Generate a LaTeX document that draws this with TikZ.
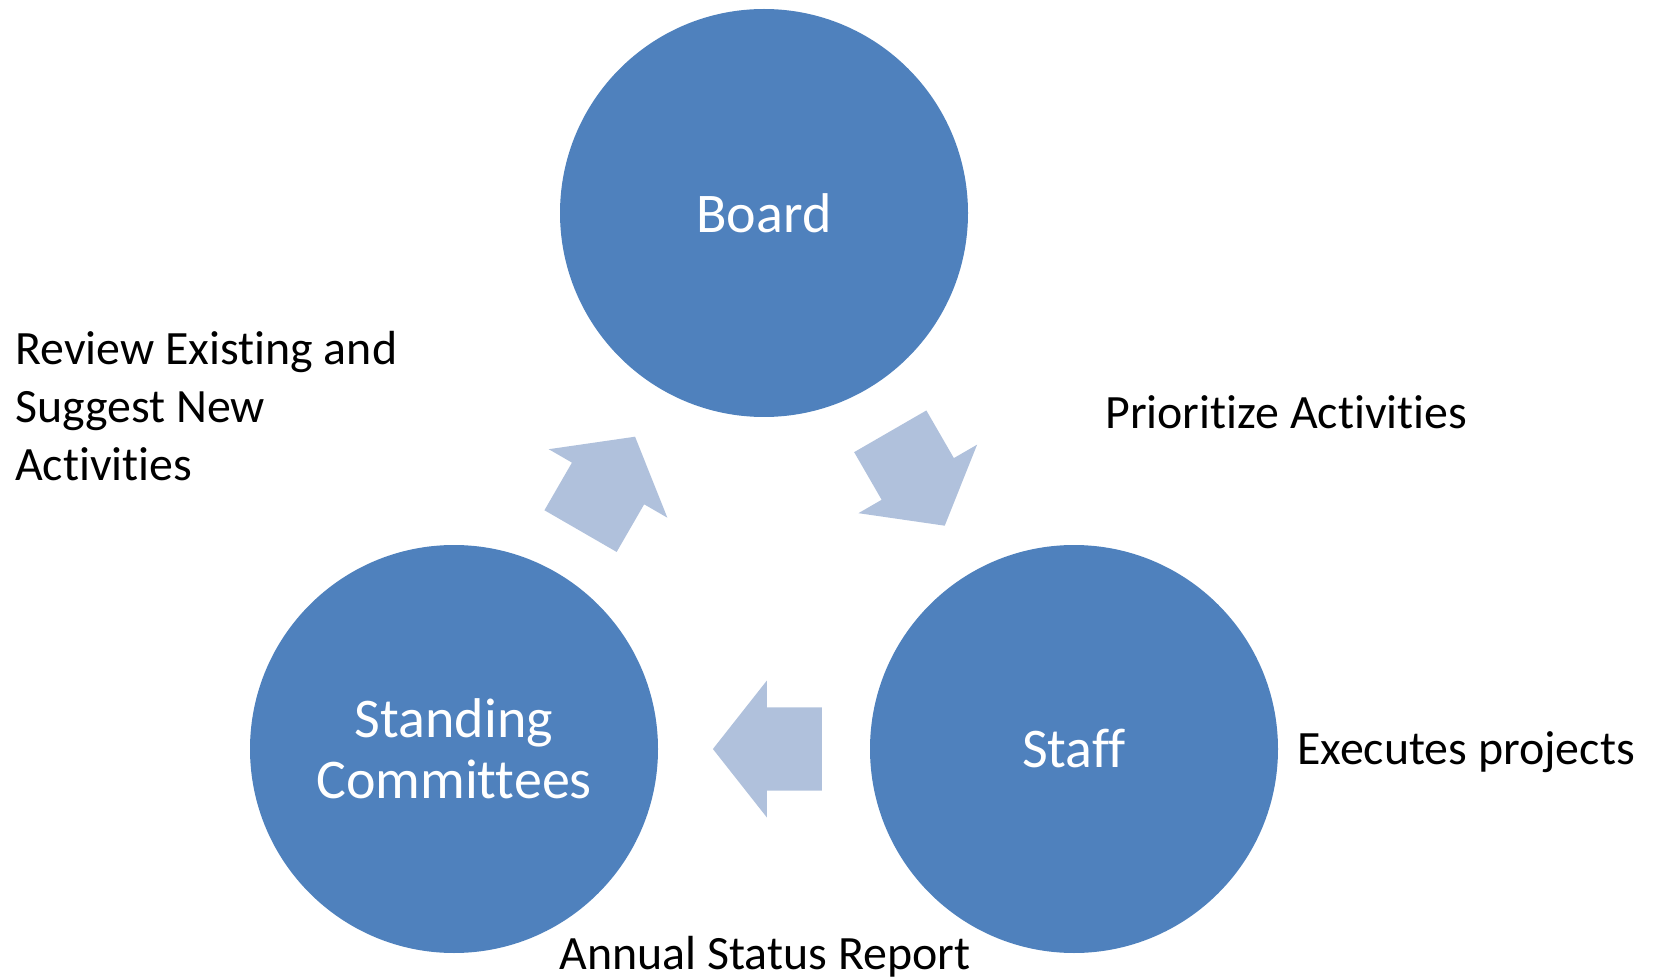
\documentclass[tikz,border=0pt]{standalone}
\usepackage{fontspec}
\setmainfont{Carlito}[Ligatures=CommonOff]
\definecolor{circleblue}{RGB}{79,129,189}
\definecolor{arrowblue}{RGB}{176,193,220}

\begin{document}
\begin{tikzpicture}[x=0.75pt,y=-0.75pt,
    member/.style={circle,fill=circleblue,text=white,minimum size=306pt,inner sep=0pt,
        font=\fontsize{42}{45.75}\selectfont,align=center},
    note/.style={anchor=base west,inner sep=0pt,font=\fontsize{35.9}{43.5}\selectfont,align=left}]
    % Bounding box
    \useasboundingbox (0,0) rectangle (1653,980);

    % Drawing the circles
    \node[member] (board) at (764,213) {Board};
    \node[member] (staff) at (1074,749) {Staff};
    \node[member] (committees) at (454,749) {Standing\\Committees};

    % Drawing the arrows
    \foreach \cx/\cy/\ang in {607.8/483.9/60, 917.5/478.5/-60, 767.4/749/180}
        \fill[arrowblue,shift={(\cx,\cy)},rotate=\ang] (-54.5,-41.7) -- (0.5,-41.7) -- (0.5,-68.5)
            -- (54.5,0) -- (0.5,68.5) -- (0.5,41.7) -- (-54.5,41.7) -- cycle;

    % Annotations (base of a multi-line node is its last line)
    \node[note] (review) at (15,480.5) {Review Existing and\\Suggest New\\Activities};
    \node[note] (prioritize) at (1105,429) {Prioritize Activities};
    \node[note] (executes) at (1297,764.3) {Executes projects};
    \node[note,anchor=base] (annual) at (765,969.5) {Annual Status Report};
\end{tikzpicture}
\end{document}
